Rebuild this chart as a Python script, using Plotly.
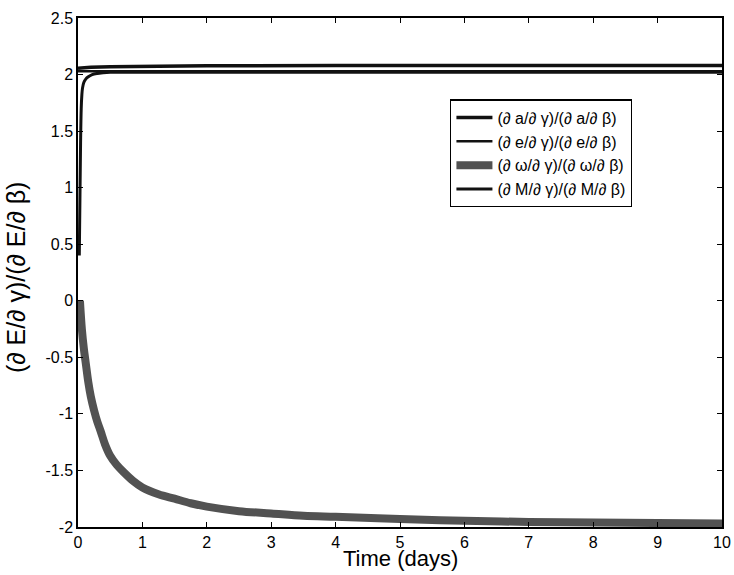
import plotly.graph_objects as go

# ---- data ----
a_t = [0.0, 0.2, 0.5, 1.0, 2.0, 4.0, 6.0, 8.0, 10.0]
a_v = [2.055, 2.065, 2.07, 2.075, 2.078, 2.08, 2.08, 2.08, 2.08]

e_t = [0.0, 0.5, 1.0, 2.0, 4.0, 6.0, 8.0, 10.0]
e_v = [2.03, 2.03, 2.03, 2.03, 2.03, 2.03, 2.03, 2.03]

w_t = [0.03, 0.06, 0.09, 0.12, 0.16, 0.2, 0.25, 0.3, 0.35, 0.42, 0.5, 0.6, 0.7, 0.85,
       1.0, 1.25, 1.5, 1.75, 2.0, 2.5, 3.0, 3.5, 4.0, 5.0, 6.0, 7.0, 8.0, 9.0, 10.0]
w_v = [0.0, -0.25, -0.42, -0.55, -0.72, -0.85, -0.97, -1.07, -1.15, -1.27, -1.37, -1.45,
       -1.51, -1.59, -1.65, -1.71, -1.75, -1.79, -1.82, -1.86, -1.88, -1.90, -1.91, -1.93,
       -1.945, -1.955, -1.96, -1.965, -1.97]

m_t = [0.02, 0.03, 0.04, 0.05, 0.06, 0.07, 0.09, 0.12, 0.16, 0.22, 0.3, 0.5, 1.0, 2.0, 5.0, 10.0]
m_v = [0.4, 0.9, 1.4, 1.7, 1.82, 1.88, 1.93, 1.96, 1.98, 2.0, 2.01, 2.02, 2.02, 2.02, 2.02, 2.02]

names = ["(∂ a/∂ γ)/(∂ a/∂ β)", "(∂ e/∂ γ)/(∂ e/∂ β)",
         "(∂ ω/∂ γ)/(∂ ω/∂ β)", "(∂ M/∂ γ)/(∂ M/∂ β)"]

x_ticks = [0, 1, 2, 3, 4, 5, 6, 7, 8, 9, 10]
y_ticks = [-2, -1.5, -1, -0.5, 0, 0.5, 1, 1.5, 2, 2.5]
y_ticktext = ["-2", "-1.5", "-1", "-0.5", "0", "0.5", "1", "1.5", "2", "2.5"]

x_title = "Time (days)"
y_title = "(∂ E/∂ γ)/(∂ E/∂ β)"

FONT = "Liberation Sans, Arial, sans-serif"

fig = go.Figure()
fig.add_trace(go.Scatter(x=a_t, y=a_v, mode="lines", name=names[0],
                         line=dict(color="#111111", width=3.5)))
fig.add_trace(go.Scatter(x=e_t, y=e_v, mode="lines", name=names[1],
                         line=dict(color="#111111", width=2.5)))
fig.add_trace(go.Scatter(x=w_t, y=w_v, mode="lines", name=names[2],
                         line=dict(color="#525252", width=8, shape="spline")))
fig.add_trace(go.Scatter(x=m_t, y=m_v, mode="lines", name=names[3],
                         line=dict(color="#111111", width=3, shape="spline")))

axis_common = dict(showline=True, linecolor="black", linewidth=1.5, mirror="ticks",
                   ticks="inside", ticklen=5, tickcolor="black", tickwidth=1.2,
                   showgrid=False, zeroline=False, automargin=False,
                   tickfont=dict(family=FONT, size=16, color="black"))

fig.update_xaxes(range=[0, 10], tickvals=x_ticks, ticktext=[str(v) for v in x_ticks],
                 **axis_common)
fig.update_yaxes(range=[-2, 2.5], tickvals=y_ticks, ticktext=y_ticktext,
                 **axis_common)

fig.add_annotation(text=x_title, xref="paper", yref="paper", x=0.5, y=-0.062,
                   xanchor="center", yanchor="middle", showarrow=False,
                   font=dict(family=FONT, size=22, color="black"))
fig.add_annotation(text=y_title, xref="paper", yref="paper", x=-0.097, y=0.49,
                   xanchor="center", yanchor="middle", showarrow=False, textangle=-90,
                   font=dict(family=FONT, size=25, color="black"))

fig.update_layout(
    width=734, height=575,
    margin=dict(l=78, r=12, t=18, b=48),
    paper_bgcolor="white", plot_bgcolor="white",
    showlegend=True,
    legend=dict(x=0.578, y=0.84, xanchor="left", yanchor="top",
                bgcolor="white", bordercolor="black", borderwidth=1.2,
                font=dict(family=FONT, size=16, color="black"),
                tracegroupgap=0, itemwidth=36),
)

fig.write_html("out.html", config={"displayModeBar": False},
               post_script="document.body.style.margin='0';document.body.style.padding='0';")
